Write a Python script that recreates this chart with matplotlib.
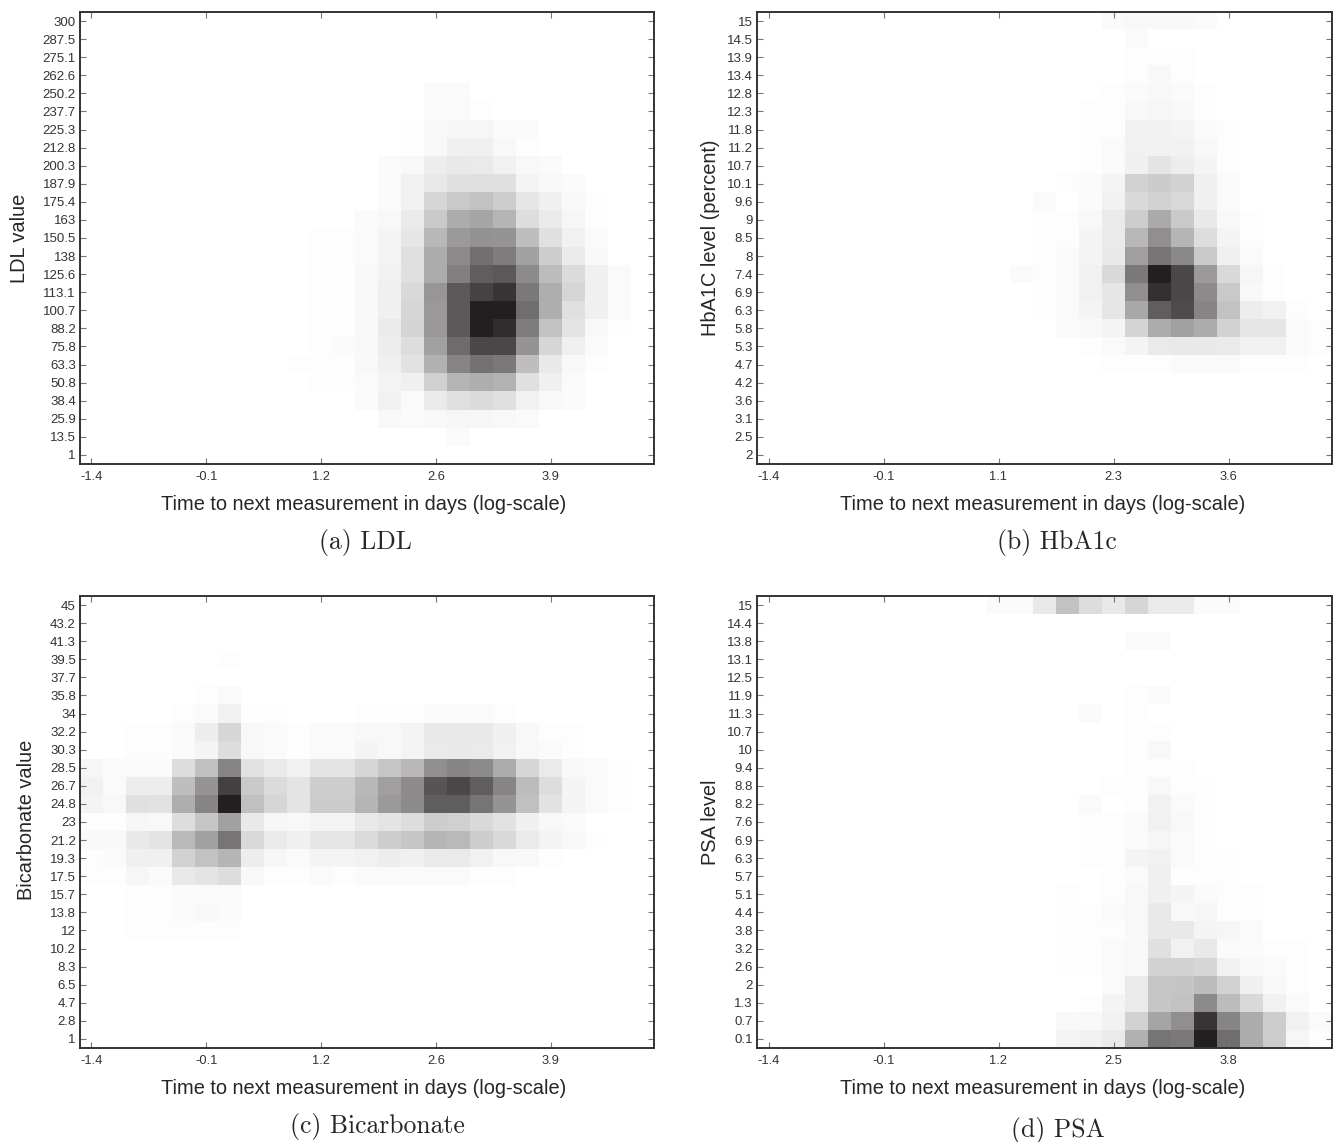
#! /usr/bin/env python3

# Four density heatmaps of lab values against time to next measurement
import numpy as np
import matplotlib
matplotlib.use('Agg')
import matplotlib.pyplot as plt
from matplotlib.colors import LinearSegmentedColormap

# Tick labels, top row first for y
ldl_y = ['300', '287.5', '275.1', '262.6', '250.2', '237.7', '225.3', '212.8', '200.3', '187.9', '175.4', '163',
         '150.5', '138', '125.6', '113.1', '100.7', '88.2', '75.8', '63.3', '50.8', '38.4', '25.9', '13.5', '1']
hba_y = ['15', '14.5', '13.9', '13.4', '12.8', '12.3', '11.8', '11.2', '10.7', '10.1', '9.6', '9',
         '8.5', '8', '7.4', '6.9', '6.3', '5.8', '5.3', '4.7', '4.2', '3.6', '3.1', '2.5', '2']
bic_y = ['45', '43.2', '41.3', '39.5', '37.7', '35.8', '34', '32.2', '30.3', '28.5', '26.7', '24.8',
         '23', '21.2', '19.3', '17.5', '15.7', '13.8', '12', '10.2', '8.3', '6.5', '4.7', '2.8', '1']
psa_y = ['15', '14.4', '13.8', '13.1', '12.5', '11.9', '11.3', '10.7', '10', '9.4', '8.8', '8.2',
         '7.6', '6.9', '6.3', '5.7', '5.1', '4.4', '3.8', '3.2', '2.6', '2', '1.3', '0.7', '0.1']

ldl_x = ['-1.4', '-0.1', '1.2', '2.6', '3.9']
hba_x = ['-1.4', '-0.1', '1.1', '2.3', '3.6']
bic_x = ['-1.4', '-0.1', '1.2', '2.6', '3.9']
psa_x = ['-1.4', '-0.1', '1.2', '2.5', '3.8']

# Density, 0 is white and 100 the darkest cell. Top row first.
ldl_vals = [
    [0]*25,
    [0]*25,
    [0]*25,
    [0]*25,
    [0]*15 + [2, 2] + [0]*8,
    [0]*15 + [2, 2, 1] + [0]*7,
    [0]*14 + [1, 3, 4, 4, 2, 2] + [0]*5,
    [0]*14 + [1, 3, 7, 7, 3, 1] + [0]*5,
    [0]*13 + [2, 3, 8, 10, 9, 6, 3, 2] + [0]*4,
    [0]*13 + [2, 6, 10, 14, 14, 14, 5, 3, 2] + [0]*3,
    [0]*13 + [2, 6, 18, 24, 27, 22, 11, 7, 3, 1] + [0]*2,
    [0]*12 + [2, 3, 9, 24, 37, 40, 33, 15, 9, 4, 1] + [0]*2,
    [0]*10 + [1, 1, 2, 5, 11, 32, 45, 49, 48, 29, 14, 6, 2, 0, 0],
    [0]*10 + [1, 1, 2, 5, 14, 37, 52, 64, 58, 42, 22, 9, 3, 0, 0],
    [0]*10 + [1, 1, 3, 6, 14, 37, 57, 72, 74, 52, 30, 16, 7, 2, 0],
    [0]*10 + [1, 1, 3, 7, 17, 47, 74, 84, 90, 60, 36, 18, 7, 2, 0],
    [0]*10 + [1, 1, 3, 7, 18, 45, 74, 100, 100, 65, 36, 14, 7, 2, 0],
    [0]*10 + [1, 1, 3, 9, 19, 46, 74, 100, 93, 58, 27, 12, 3, 1, 0],
    [0]*10 + [1, 2, 3, 8, 15, 42, 66, 82, 82, 48, 18, 7, 2, 0, 0],
    [0]*9 + [1, 1, 1, 3, 7, 13, 35, 55, 63, 60, 29, 10, 3, 1, 0, 0],
    [0]*10 + [1, 1, 2, 5, 7, 21, 33, 36, 34, 14, 7, 2, 0, 0, 0],
    [0]*12 + [2, 6, 2, 9, 14, 16, 14, 6, 3, 2, 0, 0, 0],
    [0]*13 + [3, 2, 3, 4, 4, 3, 2] + [0]*5,
    [0]*16 + [2] + [0]*8,
    [0]*25,
]

hba_vals = [
    [0]*15 + [2, 3, 3, 3, 2] + [0]*5,
    [0]*16 + [2] + [0]*8,
    [0]*16 + [1, 1, 1] + [0]*6,
    [0]*16 + [1, 3, 1] + [0]*6,
    [0]*15 + [1, 2, 3, 2, 1] + [0]*5,
    [0]*14 + [1, 1, 3, 4, 3, 1] + [0]*5,
    [0]*14 + [1, 1, 6, 6, 5, 2, 1] + [0]*4,
    [0]*14 + [1, 2, 6, 6, 6, 3, 1] + [0]*4,
    [0]*14 + [1, 2, 7, 12, 8, 5, 1] + [0]*4,
    [0]*13 + [1, 2, 5, 20, 23, 20, 7, 2] + [0]*4,
    [0]*12 + [2, 0, 2, 6, 17, 20, 17, 7, 2] + [0]*4,
    [0]*12 + [1, 1, 3, 9, 22, 38, 24, 10, 3, 1] + [0]*3,
    [0]*12 + [1, 1, 5, 9, 32, 50, 33, 15, 5, 1] + [0]*3,
    [0]*12 + [1, 2, 5, 10, 43, 62, 53, 24, 7, 2] + [0]*3,
    [0]*11 + [2, 1, 2, 6, 17, 60, 100, 82, 45, 17, 4, 1, 0, 0],
    [0]*12 + [1, 2, 6, 11, 50, 92, 82, 52, 24, 3, 1, 0, 0],
    [0]*12 + [1, 2, 5, 11, 39, 72, 80, 55, 27, 8, 6, 1, 0],
    [0]*13 + [2, 3, 5, 19, 37, 42, 37, 20, 11, 11, 2, 1],
    [0]*14 + [1, 2, 5, 9, 10, 10, 9, 6, 6, 2, 1],
    [0]*15 + [1, 1, 1, 2, 2, 2, 1, 1, 1, 0],
    [0]*25,
    [0]*25,
    [0]*25,
    [0]*25,
    [0]*25,
]

bic_vals = [
    [0]*25,
    [0]*25,
    [0]*25,
    [0]*6 + [1] + [0]*18,
    [0]*25,
    [0]*5 + [1, 2] + [0]*18,
    [0]*4 + [1, 2, 6, 1, 1, 0, 0, 0, 1, 1, 1, 2, 2, 2, 1] + [0]*6,
    [0, 0, 1, 1, 2, 8, 18, 3, 2, 1, 2, 2, 3, 3, 5, 10, 10, 10, 7, 3, 1, 1, 0, 0, 0],
    [0, 0, 1, 1, 2, 5, 15, 3, 2, 1, 2, 2, 5, 3, 5, 9, 10, 9, 6, 3, 2, 1, 0, 0, 0],
    [4, 2, 2, 2, 15, 28, 55, 13, 9, 6, 12, 12, 18, 25, 32, 50, 55, 52, 37, 18, 9, 3, 2, 1, 0],
    [6, 2, 8, 8, 29, 48, 85, 24, 16, 12, 22, 22, 32, 43, 52, 76, 82, 72, 55, 30, 15, 5, 2, 1, 0],
    [5, 3, 14, 13, 36, 55, 100, 28, 18, 12, 23, 23, 33, 45, 52, 72, 72, 62, 48, 28, 13, 5, 2, 1, 0],
    [1, 1, 4, 3, 15, 25, 42, 10, 4, 3, 5, 5, 10, 12, 15, 22, 21, 17, 13, 7, 3, 2, 0, 0, 0],
    [3, 3, 10, 12, 31, 42, 62, 17, 9, 7, 11, 11, 16, 22, 25, 33, 31, 22, 17, 9, 5, 3, 1, 0, 0],
    [1, 2, 7, 7, 20, 27, 33, 8, 4, 2, 5, 5, 6, 8, 7, 9, 9, 6, 3, 3, 1, 0, 0, 0, 0],
    [1, 1, 4, 2, 10, 12, 15, 3, 1, 1, 2, 1, 2, 2, 2, 2, 2, 1, 1, 0, 0, 0, 0, 0, 0],
    [0, 0, 1, 1, 2, 2, 2] + [0]*18,
    [0, 0, 1, 1, 2, 3, 2] + [0]*18,
    [0, 0, 1, 1, 1, 1, 1] + [0]*18,
    [0]*25,
    [0]*25,
    [0]*25,
    [0]*25,
    [0]*25,
    [0]*25,
]

psa_vals = [
    [0]*10 + [2, 2, 10, 27, 15, 10, 18, 9, 9, 2, 2, 0, 0, 0, 0],
    [0]*25,
    [0]*16 + [2, 2] + [0]*7,
    [0]*25,
    [0]*25,
    [0]*16 + [1, 2] + [0]*7,
    [0]*14 + [2, 0, 1] + [0]*8,
    [0]*16 + [1, 1] + [0]*7,
    [0]*16 + [1, 3] + [0]*7,
    [0]*16 + [1, 1, 1] + [0]*6,
    [0]*15 + [1, 1, 3, 1, 1] + [0]*5,
    [0]*14 + [2, 0, 1, 6, 2, 1] + [0]*5,
    [0]*14 + [1, 1, 2, 6, 3, 1] + [0]*5,
    [0]*14 + [1, 1, 2, 4, 2, 1] + [0]*5,
    [0]*14 + [1, 1, 5, 6, 2, 1, 1] + [0]*4,
    [0]*15 + [1, 2, 7, 1, 1, 1] + [0]*4,
    [0]*13 + [1, 0, 1, 3, 7, 5, 2, 1, 1] + [0]*3,
    [0]*13 + [1, 1, 2, 3, 10, 3, 4, 1, 1] + [0]*3,
    [0]*13 + [1, 1, 1, 3, 10, 10, 5, 4, 2] + [0]*3,
    [0]*13 + [1, 1, 2, 3, 14, 6, 10, 2, 2, 1, 1, 0],
    [0]*13 + [1, 1, 2, 3, 20, 20, 18, 6, 3, 2, 1, 0],
    [0]*15 + [2, 9, 25, 26, 30, 20, 7, 3, 1, 0],
    [0]*14 + [1, 5, 9, 25, 27, 52, 30, 17, 6, 2, 0],
    [0]*13 + [3, 3, 6, 20, 40, 50, 90, 55, 37, 22, 6, 2],
    [0]*13 + [5, 6, 9, 35, 62, 60, 100, 65, 37, 22, 4, 1],
]

W, H = 1338, 1142
plt.rcParams['font.family'] = ['Liberation Sans', 'DejaVu Sans']

cmap = LinearSegmentedColormap.from_list('ink', ['#ffffff', '#231f20'])

fig = plt.figure(figsize=(W / 100, H / 100), dpi=100)


def pixel_axes(left, top, right, bottom):
    return fig.add_axes([left / W, 1 - bottom / H, (right - left) / W, (bottom - top) / H])


def fig_text(x, y, s, **kw):
    fig.text(x / W, 1 - y / H, s, ha='center', va='center', color='#262626', **kw)


def heat(box, vals, xlabs, ylabs, ylabel, ylabel_pos, caption, caption_pos, xlabel_x, xlabel_y):
    ax = pixel_axes(*box)
    ax.imshow(np.array(vals), cmap=cmap, vmin=0, vmax=100, aspect='auto', interpolation='nearest')
    ax.set_xticks(np.arange(0, 25, 5))
    ax.set_xticklabels(xlabs, fontsize=9.3, color='#333333')
    ax.set_yticks(np.arange(25))
    ax.set_yticklabels(ylabs, fontsize=9.5, color='#333333')
    ax.tick_params(direction='in', length=4.3, width=0.8, color='#777777', top=True, right=True)
    ax.tick_params(axis='x', pad=5)
    ax.tick_params(axis='y', pad=3)
    for s in ax.spines.values():
        s.set_linewidth(1.4)
        s.set_color('#333333')
    fig_text(ylabel_pos[0], ylabel_pos[1], ylabel, fontsize=14.4, rotation=90)
    fig_text(xlabel_x, xlabel_y, 'Time to next measurement in days (log-scale)', fontsize=14.4)
    fig_text(caption_pos[0], caption_pos[1], caption, fontsize=18.5, family='cmr10')


heat((80, 12, 654, 464), ldl_vals, ldl_x, ldl_y, 'LDL value', (20, 238), '(a) LDL', (365, 542), 364, 504)
heat((757, 12, 1332, 464), hba_vals, hba_x, hba_y, 'HbA1C level (percent)', (710, 238), '(b) HbA1c', (1057, 542), 1043, 504)
heat((80, 596, 654, 1048), bic_vals, bic_x, bic_y, 'Bicarbonate value', (27, 820), '(c) Bicarbonate', (377, 1126), 364, 1088)
heat((757, 596, 1332, 1048), psa_vals, psa_x, psa_y, 'PSA level', (710, 822), '(d) PSA', (1058, 1131), 1043, 1088)

fig.savefig('out.png', dpi=100)
